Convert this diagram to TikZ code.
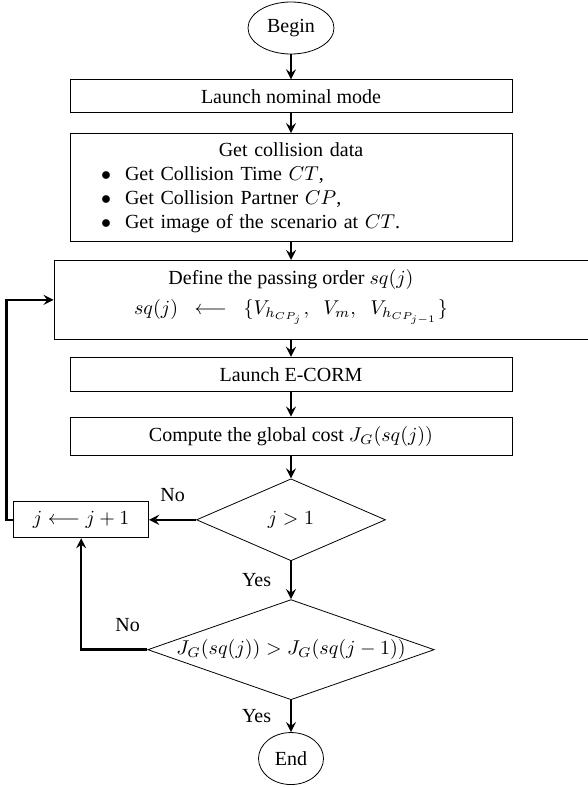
\documentclass[tikz,border=0pt]{standalone}
\usepackage{amsmath}
\usepackage{amssymb}
\usepackage[no-math]{fontspec}
\setmainfont{Liberation Serif}
\usepackage{tikz}
\usetikzlibrary{shapes,arrows,positioning,calc}

\begin{document}
\begin{tikzpicture}[
    node distance=10pt,
    box/.style={rectangle, draw, minimum width=221pt, minimum height=16.5pt, align=center},
    term/.style={ellipse, draw, inner sep=1pt},
    decision/.style={diamond, draw, inner sep=0pt},
    arrow/.style={->, line width=1.2pt, >=stealth}
]
\useasboundingbox (0,0) rectangle (294pt,-393.5pt);

% Begin
\node[term, minimum width=43pt, minimum height=26pt] (begin) at (145.5pt,-14pt) {Begin};

% Nominal mode and collision data
\node[box, below=12.5pt of begin] (nominal) {Launch nominal mode};
\node[box, below=10pt of nominal, minimum height=54pt, text width=214pt, align=left] (collision) {\hfill Get collision data\hfill\null\\
    \makebox[24pt][l]{\hspace{12pt}$\bullet$}Get Collision Time $CT$,\\
    \makebox[24pt][l]{\hspace{12pt}$\bullet$}Get Collision Partner $CP$,\\
    \makebox[24pt][l]{\hspace{12pt}$\bullet$}Get image of the scenario at $CT$.};

% Passing order - cadre plus large, texte centre sur l'axe
\node[box, below=9pt of collision, xshift=18pt, minimum width=273pt, minimum height=39.5pt] (order) {};
\node[align=center] (ordertxt) at ($(order.center -| collision.center)+(0,1.5pt)$) {Define the passing order $sq(j)$\\[3pt]
    $sq(j)\;\;\longleftarrow\;\;\{V_{h_{CP_j}},\;\;V_m,\;\;V_{h_{CP_{j-1}}}\}$};

% E-CORM and cost
\node[box, below=8.5pt of order, xshift=-18pt, minimum height=17pt] (ecorm) {Launch E-CORM};
\node[box, below=12.5pt of ecorm, minimum height=19pt] (cost) {Compute the global cost $J_G(sq(j))$};

% Decisions
\node[decision, below=11.5pt of cost, minimum width=94.5pt, minimum height=41pt] (testj) {$j>1$};
\node[decision, below=19pt of testj, aspect=2.86, minimum width=141.5pt, minimum height=49.5pt] (testcost) {$J_G(sq(j)) > J_G(sq(j-1))$};
\node[rectangle, draw, left=23.5pt of testj, minimum width=67.5pt, minimum height=18pt] (incr) {$j \longleftarrow j+1$};

% End
\node[term, below=16pt of testcost, minimum width=32.5pt, minimum height=26pt] (end) {End};

% Arrows along the main axis
\draw[arrow] (begin) -- (nominal);
\draw[arrow] (nominal) -- (collision);
\draw[arrow] (collision) -- (collision |- order.north);
\draw[arrow] (ecorm |- order.south) -- (ecorm);
\draw[arrow] (ecorm) -- (cost);
\draw[arrow] (cost) -- (testj);
\draw[arrow] (testj) -- node[midway, left=6pt] (yes1) {Yes} (testcost);
\draw[arrow] (testcost) -- node[midway, left=6pt] (yes2) {Yes} (end);

% Loop arrows
\draw[arrow] (testj.west) -- node[midway, above=5pt] (no1) {No} (incr.east);
\draw[arrow] (testcost.west) -| node[pos=0.15, above=5pt] (no2) {No} (incr.south);
\draw[arrow] (incr.west) -- ++(-3.5pt,0) |- (order.west);

\end{tikzpicture}
\end{document}
